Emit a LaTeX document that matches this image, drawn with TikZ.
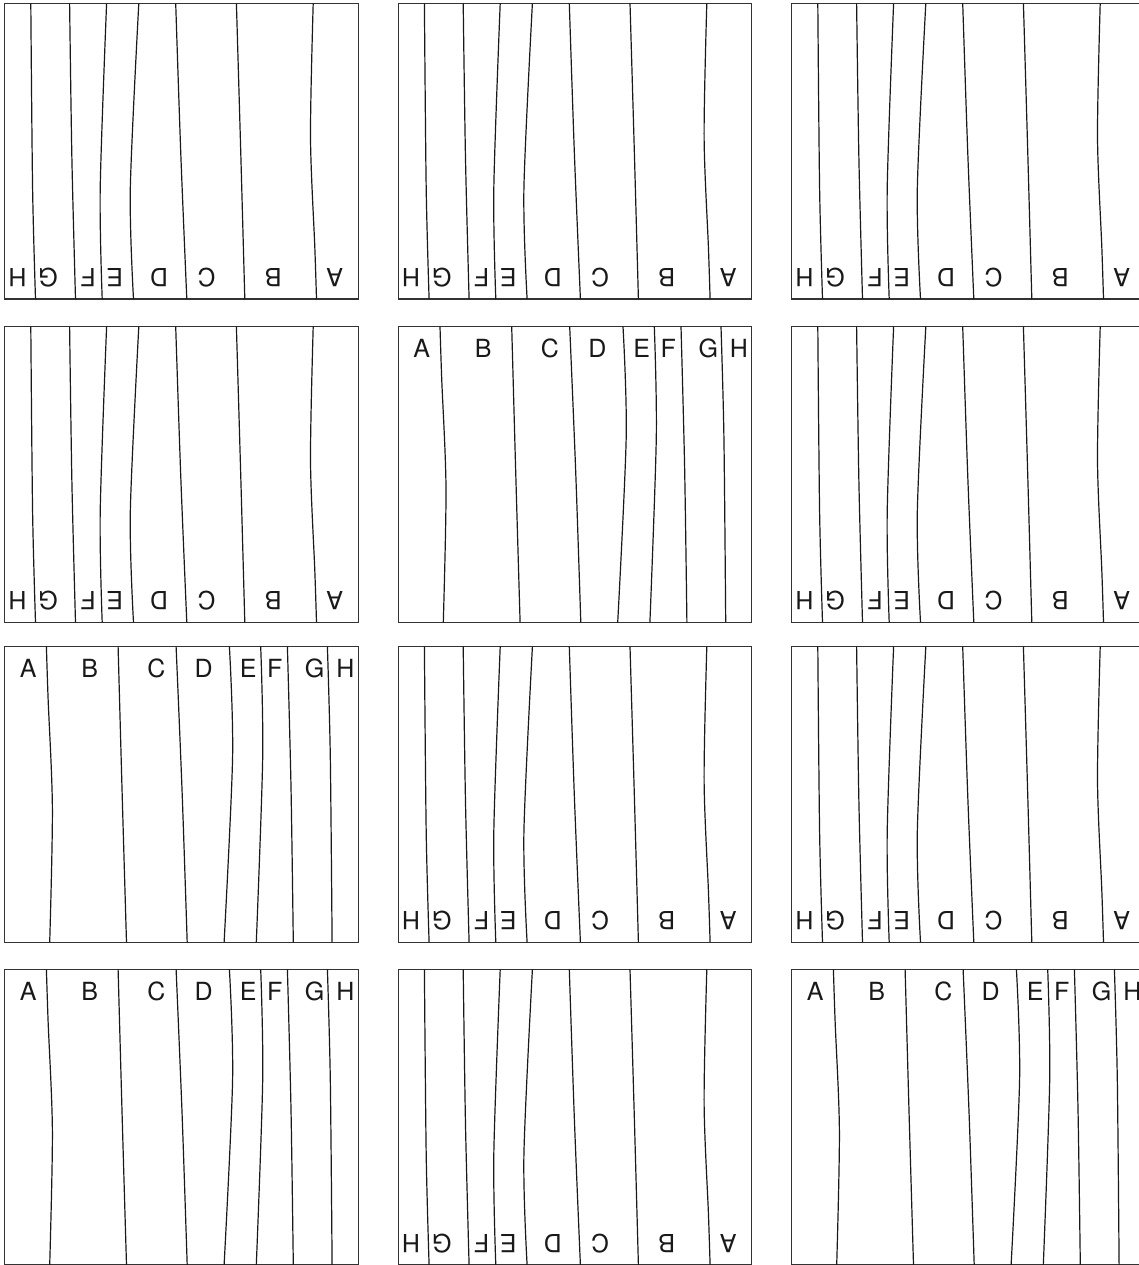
\documentclass[tikz,border=0pt]{standalone}
\usepackage{fontspec}
\setmainfont{TeX Gyre Heros}
\tikzset{
  x=1pt, y=1pt,
  frame/.style={draw=black!80, line width=1.3pt},
  divider/.style={draw=black!90, line width=1.2pt},
  lab/.style={font=\fontsize{25}{30}\selectfont, anchor=base, inner sep=0pt, text=black!90},
}
% #1 name, #2 x0, #3 y0, #4 rotation (0 upright, 180 inverted)
\newcommand\drawpanel[4]{%
  \begin{scope}[shift={(#2,-#3)}, rotate around={#4:(176.75,-147.85)}, transform shape]
    \draw[frame] (0,0) rectangle (353.5,-295.7);
    \draw[divider] plot[smooth] coordinates {(41.7,0) (43.4,-52) (47.7,-162) (45,-295.7)};
    \draw[divider] plot[smooth] coordinates {(113.4,0) (117.4,-145) (121.8,-295.7)};
    \draw[divider] plot[smooth] coordinates {(171.4,0) (177.4,-145) (182.5,-295.7)};
    \draw[divider] plot[smooth] coordinates {(224.7,0) (227.9,-110) (219.4,-295.7)};
    \draw[divider] plot[smooth] coordinates {(256,0) (258,-110) (251.6,-295.7)};
    \draw[divider] plot[smooth] coordinates {(282.7,0) (286.3,-140) (288.6,-295.7)};
    \draw[divider] plot[smooth] coordinates {(322.7,0) (325.6,-110) (327.4,-295.7)};
    \foreach \l/\u in {A/23.4,B/85,C/151.7,D/199,E/243.4,F/270,G/310,H/340.7}
      \node[lab] (#1\l) at (\u,-31) {\l};
  \end{scope}}
\begin{document}
\begin{tikzpicture}
  \useasboundingbox (0,0) rectangle (1139,-1265);
  \clip (0,0) rectangle (1139,-1265);
  % row 1
  \drawpanel{pa}{4.7}{3.3}{180}
  \drawpanel{pb}{398.3}{3.3}{180}
  \drawpanel{pc}{791.7}{3.3}{180}
  % row 2
  \drawpanel{pd}{4.7}{326.7}{180}
  \drawpanel{pe}{398.3}{326.7}{0}
  \drawpanel{pf}{791.7}{326.7}{180}
  % row 3
  \drawpanel{pg}{4.7}{646.7}{0}
  \drawpanel{ph}{398.3}{646.7}{180}
  \drawpanel{pi}{791.7}{646.7}{180}
  % row 4
  \drawpanel{pj}{4.7}{969.3}{0}
  \drawpanel{pk}{398.3}{969.3}{180}
  \drawpanel{pl}{791.7}{969.3}{0}
\end{tikzpicture}
\end{document}
